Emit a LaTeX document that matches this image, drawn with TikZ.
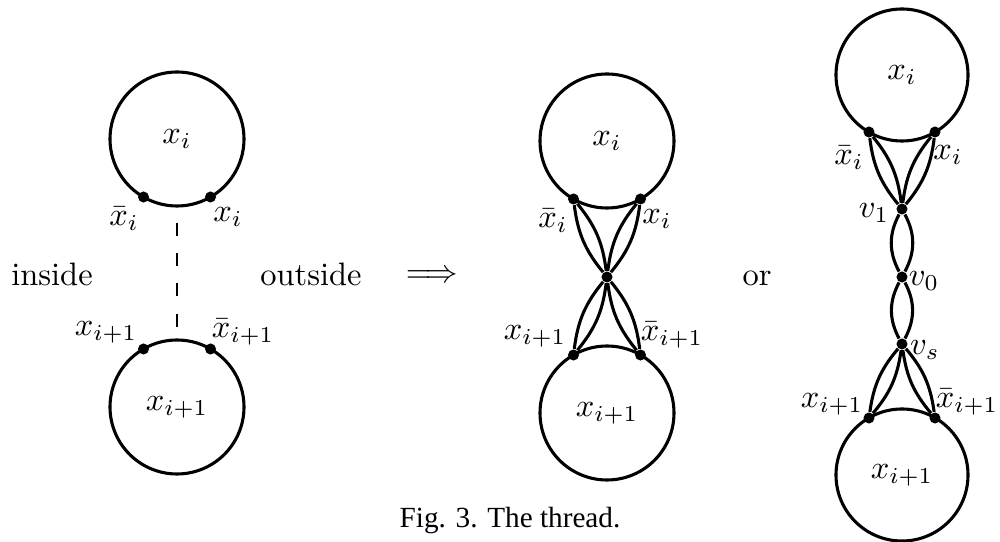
\documentclass[tikz,border=0pt]{standalone}
\usepackage{fontspec}
\newfontfamily\capfont{Liberation Serif}
\begin{document}
\begin{tikzpicture}[x=0.308pt,y=-0.308pt,
  ring/.style={circle,draw,line width=0.95pt,inner sep=0pt,minimum size=#1},
  dotnode/.style={circle,fill,inner sep=0pt,minimum size=3.4pt},
  lbl/.style={inner sep=0pt},
  wire/.style={line width=0.95pt},
  dashline/.style={line width=0.75pt,dash pattern=on 4pt off 5.3pt}]
\useasboundingbox (0,0) rectangle (1000,542);

% ---------- left figure ----------
\node[ring=41.27pt] (L1) at (177,139) {$x_i$};
\node[ring=41.27pt] (L2) at (177,407) {$x_{i+1}$};
\node[dotnode] (L1a) at (143.5,197) {};
\node[dotnode] (L1b) at (210.5,197) {};
\node[dotnode] (L2a) at (143.5,349) {};
\node[dotnode] (L2b) at (210.5,349) {};
\coordinate (Ld1) at (177,223);
\coordinate (Ld2) at (177,327);
\draw[dashline] (Ld1) -- (Ld2);
\node[lbl] (L1al) at (124,219) {$\bar{x}_i$};
\node[lbl] (L1bl) at (228,217) {$x_i$};
\node[lbl] (L2al) at (106,332) {$x_{i+1}$};
\node[lbl] (L2bl) at (243,332) {$\bar{x}_{i+1}$};
\node[anchor=base] (ins) at (52,286) {inside};
\node[anchor=base] (outs) at (311,286) {outside};
\node (arr) at (432,277) {$\Longrightarrow$};

% ---------- middle figure ----------
\node[ring=41.27pt] (M1) at (607,141) {$x_i$};
\node[ring=41.27pt] (M2) at (607,413) {$x_{i+1}$};
\node[dotnode] (M1a) at (573.5,199) {};
\node[dotnode] (M1b) at (640.5,199) {};
\node[dotnode] (M2a) at (573.5,355) {};
\node[dotnode] (M2b) at (640.5,355) {};
\node[dotnode] (Mc) at (607,277) {};
\draw[wire] (M1a) to[bend left=16] (Mc);
\draw[wire] (M1a) to[bend right=16] (Mc);
\draw[wire] (M1b) to[bend left=16] (Mc);
\draw[wire] (M1b) to[bend right=16] (Mc);
\draw[wire] (M2a) to[bend left=16] (Mc);
\draw[wire] (M2a) to[bend right=16] (Mc);
\draw[wire] (M2b) to[bend left=16] (Mc);
\draw[wire] (M2b) to[bend right=16] (Mc);
\node[lbl] (M1al) at (553,221) {$\bar{x}_i$};
\node[lbl] (M1bl) at (657,219) {$x_i$};
\node[lbl] (M2al) at (535,336) {$x_{i+1}$};
\node[lbl] (M2bl) at (672,335) {$\bar{x}_{i+1}$};
\node[anchor=base] (or) at (757,286) {or};

% ---------- right figure ----------
\node[ring=40.66pt] (R1) at (902,75) {$x_i$};
\node[ring=40.66pt] (R2) at (902,475) {$x_{i+1}$};
\node[dotnode] (R1a) at (869,132) {};
\node[dotnode] (R1b) at (935,132) {};
\node[dotnode] (V1) at (902,209) {};
\node[dotnode] (V0) at (902,277) {};
\node[dotnode] (Vs) at (902,344) {};
\node[dotnode] (R2a) at (869,418) {};
\node[dotnode] (R2b) at (935,418) {};
\draw[wire] (R1a) to[bend left=16] (V1);
\draw[wire] (R1a) to[bend right=16] (V1);
\draw[wire] (R1b) to[bend left=16] (V1);
\draw[wire] (R1b) to[bend right=16] (V1);
\draw[wire] (V1) to[bend left=28] (V0);
\draw[wire] (V1) to[bend right=28] (V0);
\draw[wire] (V0) to[bend left=28] (Vs);
\draw[wire] (V0) to[bend right=28] (Vs);
\draw[wire] (Vs) to[bend left=16] (R2a);
\draw[wire] (Vs) to[bend right=16] (R2a);
\draw[wire] (Vs) to[bend left=16] (R2b);
\draw[wire] (Vs) to[bend right=16] (R2b);
\node[lbl] (R1al) at (849,158) {$\bar{x}_i$};
\node[lbl] (R1bl) at (948,155) {$x_i$};
\node[lbl] (V1l) at (874,213) {$v_1$};
\node[lbl] (V0l) at (924,281) {$v_0$};
\node[lbl] (Vsl) at (925,350) {$v_s$};
\node[lbl] (R2al) at (832,404) {$x_{i+1}$};
\node[lbl] (R2bl) at (967,402) {$\bar{x}_{i+1}$};

% ---------- caption ----------
\node[anchor=base,font=\capfont\fontsize{9}{11}\selectfont] (cap) at (510,528) {Fig. 3. The thread.};
\end{tikzpicture}
\end{document}
